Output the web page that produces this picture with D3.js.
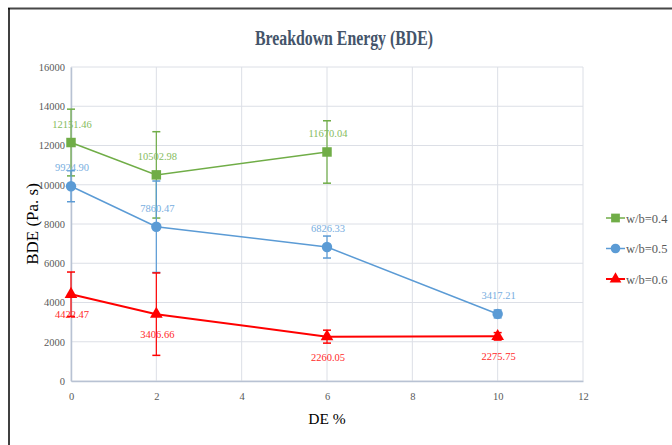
<!DOCTYPE html>
<html><head><meta charset="utf-8">
<script src="https://cdn.jsdelivr.net/npm/d3@7"></script>
<style>body{margin:0;background:#fff;}svg{display:block;font-family:"Liberation Serif","Times New Roman",serif;}</style>
</head><body>
<svg id="c" width="672" height="445"></svg>
<script>
const xTicks = [0, 2, 4, 6, 8, 10, 12];
const yTicks = [0, 2000, 4000, 6000, 8000, 10000, 12000, 14000, 16000];
const seriesNames = ["w/b=0.4", "w/b=0.5", "w/b=0.6"];
const xGreen = [0, 2, 6];
const yGreen = [12151.46, 10502.98, 11670.04];
const eGreen = [1700, 2200, 1590];
const xBlue = [0, 2, 6, 10];
const yBlue = [9924.90, 7860.47, 6826.33, 3417.21];
const eBlue = [790, 2330, 560, 200];
const xRed = [0, 2, 6, 10];
const yRed = [4422.47, 3406.66, 2260.05, 2275.75];
const eRed = [1130, 2100, 330, 190];

const svg = d3.select("#c");
const x = d3.scaleLinear().domain([0, 12]).range([71, 583]);
const y = d3.scaleLinear().domain([0, 16000]).range([381, 67]);

// frame
svg.append("line").attr("x1", 8).attr("x2", 672).attr("y1", 8.5).attr("y2", 8.5).attr("stroke", "#474747").attr("stroke-width", 2);
svg.append("line").attr("x1", 9).attr("x2", 9).attr("y1", 8).attr("y2", 445).attr("stroke", "#000").attr("stroke-width", 1.5);

// title
svg.append("text").attr("x", 344).attr("y", 45).attr("text-anchor", "middle")
  .attr("font-size", 20).attr("font-weight", "bold").attr("fill", "#44546A")
  .attr("textLength", 178).attr("lengthAdjust", "spacingAndGlyphs")
  .text("Breakdown Energy (BDE)");

// grid
svg.append("g").selectAll("line").data(yTicks).join("line")
  .attr("x1", x(0)).attr("x2", x(12)).attr("y1", d => y(d)).attr("y2", d => y(d))
  .attr("stroke", "#dcdfe6").attr("stroke-width", 1);
svg.append("g").selectAll("line").data(xTicks).join("line")
  .attr("x1", d => x(d)).attr("x2", d => x(d)).attr("y1", y(0)).attr("y2", y(16000))
  .attr("stroke", "#dcdfe6").attr("stroke-width", 1);

// axes
const xAxis = svg.append("g").attr("transform", `translate(0,${y(0)})`)
  .call(d3.axisBottom(x).tickValues(xTicks).tickSize(0).tickPadding(12));
const yAxis = svg.append("g").attr("transform", `translate(${x(0)},0)`)
  .call(d3.axisLeft(y).tickValues(yTicks).tickSize(0).tickPadding(6).tickFormat(d3.format("d")));
[xAxis, yAxis].forEach(a => {
  a.select(".domain").attr("stroke", "#b8c2d3").attr("stroke-width", 1.5);
  a.selectAll("text").attr("font-family", "Liberation Serif").attr("font-size", 10.5).attr("fill", "#595959");
});

// axis titles
svg.append("text").attr("transform", "translate(38,224) rotate(-90)").attr("text-anchor", "middle")
  .attr("font-size", 17).attr("fill", "#000").text("BDE  (Pa. s)");
svg.append("text").attr("x", 327).attr("y", 424).attr("text-anchor", "middle")
  .attr("font-size", 15.5).attr("fill", "#000").text("DE %");

const series = [
  {xs: xGreen, ys: yGreen, es: eGreen, color: "#70AD47", label: "#86BC5E", shape: d3.symbolSquare, size: 90, lw: 1.5, above: true},
  {xs: xBlue, ys: yBlue, es: eBlue, color: "#5B9BD5", label: "#78AEE0", shape: d3.symbolCircle, size: 85, lw: 1.5, above: true},
  {xs: xRed, ys: yRed, es: eRed, color: "#FF0000", label: "#FF2A2A", shape: d3.symbolTriangle, size: 70, lw: 2, above: false}
];

series.forEach((s, si) => {
  const pts = s.xs.map((xv, i) => ({x: xv, y: s.ys[i], e: s.es[i]}));
  const g = svg.append("g");
  g.append("path").datum(pts).attr("fill", "none").attr("stroke", s.color).attr("stroke-width", s.lw)
    .attr("d", d3.line().x(d => x(d.x)).y(d => y(d.y)));
  // error bars
  const eb = g.selectAll(".eb").data(pts).join("g");
  eb.append("line").attr("x1", d => x(d.x)).attr("x2", d => x(d.x))
    .attr("y1", d => y(d.y + d.e)).attr("y2", d => y(d.y - d.e)).attr("stroke", s.color).attr("stroke-width", 1.2);
  [1, -1].forEach(sg => {
    eb.append("line").attr("x1", d => x(d.x) - 4).attr("x2", d => x(d.x) + 4)
      .attr("y1", d => y(d.y + sg * d.e)).attr("y2", d => y(d.y + sg * d.e)).attr("stroke", s.color).attr("stroke-width", 1.5);
  });
  g.selectAll(".m").data(pts).join("path")
    .attr("transform", d => `translate(${x(d.x)},${y(d.y)})`)
    .attr("d", d3.symbol().type(s.shape).size(s.size)).attr("fill", s.color);
  g.selectAll(".lb").data(pts).join("text")
    .attr("x", d => x(d.x) + 1).attr("y", d => y(d.y) + (s.above ? -15 : 24))
    .attr("text-anchor", "middle").attr("font-size", 10.5).attr("fill", s.label)
    .text(d => d.y.toFixed(2));

  // legend
  const ly = 218 + si * 30.5;
  const lg = svg.append("g");
  lg.append("line").attr("x1", 606).attr("x2", 625).attr("y1", ly).attr("y2", ly).attr("stroke", s.color).attr("stroke-width", s.lw);
  lg.append("path").attr("transform", `translate(615.5,${ly})`).attr("d", d3.symbol().type(s.shape).size(s.size * 0.85)).attr("fill", s.color);
  lg.append("text").attr("x", 626).attr("y", ly + 4.5).attr("font-size", 12.5).attr("fill", "#595959").text(seriesNames[si]);
});
</script>
</body></html>
